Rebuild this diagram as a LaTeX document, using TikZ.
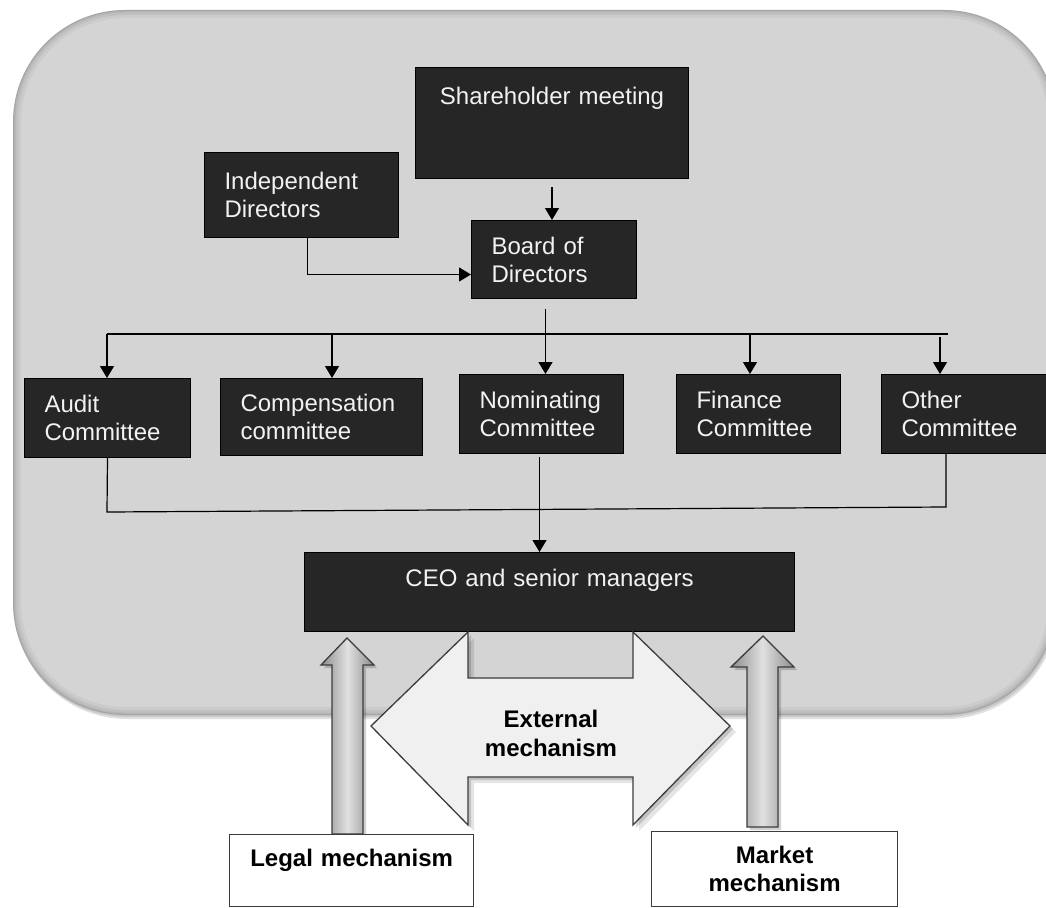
\documentclass[tikz,border=0pt]{standalone}
\usepackage{fontspec}
\setmainfont{Liberation Sans}
\usetikzlibrary{arrows.meta,calc}
\definecolor{bg}{RGB}{212,212,212}
\definecolor{boxfill}{RGB}{38,38,38}
\definecolor{boxtext}{RGB}{242,242,242}
\definecolor{arrowfill}{RGB}{240,240,240}
\definecolor{outline}{RGB}{60,60,60}
\begin{document}
\begin{tikzpicture}[x=1pt,y=-1pt,
  dbox/.style={draw=black, line width=1pt, fill=boxfill, text=boxtext,
    font=\fontsize{24}{28}\selectfont, align=left, inner xsep=20pt, inner ysep=0pt,
    anchor=north west},
  wbox/.style={draw=outline, line width=1.3pt, fill=white,
    font=\bfseries\fontsize{24}{28}\selectfont, align=center, inner sep=0pt,
    anchor=north west},
  conn/.style={line width=1.2pt, black},
  arr/.style={conn, -{Triangle[length=12pt,width=14pt]}},
  fat/.style={draw=outline, line width=1.3pt},
  fatshadow/.style={fill=black, opacity=0.18},
  bgshape/.style={rounded corners=112pt}
]
\useasboundingbox (0,0) rectangle (1046,907);
\fill[white] (0,0) rectangle (1046,907);

% background panel with soft edges
\fill[black, opacity=0.12, bgshape] (15,14) rectangle (1058,719);
\fill[black, opacity=0.10, bgshape] (14,12) rectangle (1057,717);
\fill[bg, bgshape] (13,10) rectangle (1056,715);
\begin{scope}
  \clip[bgshape] (13,10) rectangle (1056,715);
  \foreach \w/\o in {16/0.04, 10/0.05, 5/0.06, 2/0.08}
    \draw[black, opacity=\o, line width=\w pt, bgshape] (13,10) rectangle (1056,715);
\end{scope}

% top part
\node[dbox, align=center, text width=233pt, text height=37pt, text depth=74pt]
  (sh) at (415,67) {Shareholder meeting};
\node[dbox, text width=154pt, minimum height=85pt] (ind) at (204,152) {Independent\\Directors};
\node[dbox, text width=125pt, minimum height=78pt] (board) at (471,220) {Board of\\Directors};

% committees
\node[dbox, text width=126pt, minimum height=79pt] (audit) at (24,378) {Audit\\Committee};
\node[dbox, text width=162pt, minimum height=77pt] (comp) at (220,378) {Compensation\\committee};
\node[dbox, text width=124pt, minimum height=79pt] (nom) at (459,374) {Nominating\\Committee};
\node[dbox, text width=124pt, minimum height=79pt] (fin) at (676,374) {Finance\\Committee};
\node[dbox, text width=126pt, minimum height=79pt] (oth) at (881,374) {Other\\Committee};

% CEO
\node[dbox, align=center, text width=450pt, text height=34pt, text depth=45pt]
  (ceo) at (304,552) {CEO and senior managers};

% connectors
\draw[arr, shorten <=8pt] (sh.south) -- (sh.south |- board.north);
\draw[arr] ([xshift=6pt]ind.south) |- ([yshift=-15pt]board.west);
\draw[arr, shorten <=10pt] ([xshift=-8.5pt]board.south) -- ([xshift=-8.5pt]board.south |- nom.north);

\coordinate (busL) at (107,334);
\coordinate (busR) at (948,334);
\draw[conn] (busL) -- (busR);
\draw[arr] (busL) -- (busL |- audit.north);
\coordinate (t2) at (332,334);
\draw[arr] (t2) -- (t2 |- comp.north);
\coordinate (t4) at (750,334);
\draw[arr] (t4) -- (t4 |- fin.north);
\coordinate (t5) at (940,337);
\draw[arr] (t5) -- (t5 |- oth.north);

\coordinate (bbL) at (107,512);
\coordinate (bbR) at (946,507);
\draw[conn] (audit.south) -- (bbL) -- (bbR) -- (bbR |- oth.south);
\draw[arr, shorten <=3pt] ([xshift=-2pt]nom.south) -- ([xshift=-2pt]nom.south |- ceo.north);

% external mechanism double arrow
\def\dblarrow{(371,726) -- (468,632) -- (468,678) -- (633,678) -- (633,632) -- (730,726) -- (633,825) -- (633,777) -- (468,777) -- (468,825) -- cycle}
\fill[fatshadow, opacity=0.10] [shift={(6,6)}] \dblarrow;
\fill[fatshadow, opacity=0.15] [shift={(3,3)}] \dblarrow;
\path[fat, fill=arrowfill] \dblarrow;
\node[font=\bfseries\fontsize{24}{29}\selectfont, align=center, inner sep=0pt] (ext) at (551,733) {External\\mechanism};

% legal / market up arrows
\def\legalarrow{(347,638) -- (374,665) -- (363,665) -- (363,834) -- (332,834) -- (332,665) -- (321,665) -- cycle}
\def\marketarrow{(763,636) -- (794,667) -- (778,667) -- (778,827) -- (747,827) -- (747,667) -- (731,667) -- cycle}
\fill[fatshadow] [shift={(3,3)}] \legalarrow;
\fill[fatshadow] [shift={(3,3)}] \marketarrow;
\path[fat, left color=black!45, right color=black!45, middle color=black!12] \legalarrow;
\path[fat, left color=black!45, right color=black!45, middle color=black!12] \marketarrow;

% bottom boxes
\node[wbox, text width=244pt, text height=32pt, text depth=40pt] (legal) at (229,834) {Legal mechanism};
\node[wbox, text width=246pt, text height=32pt, text depth=43pt] (market) at (651,831) {Market\\mechanism};
\end{tikzpicture}
\end{document}
